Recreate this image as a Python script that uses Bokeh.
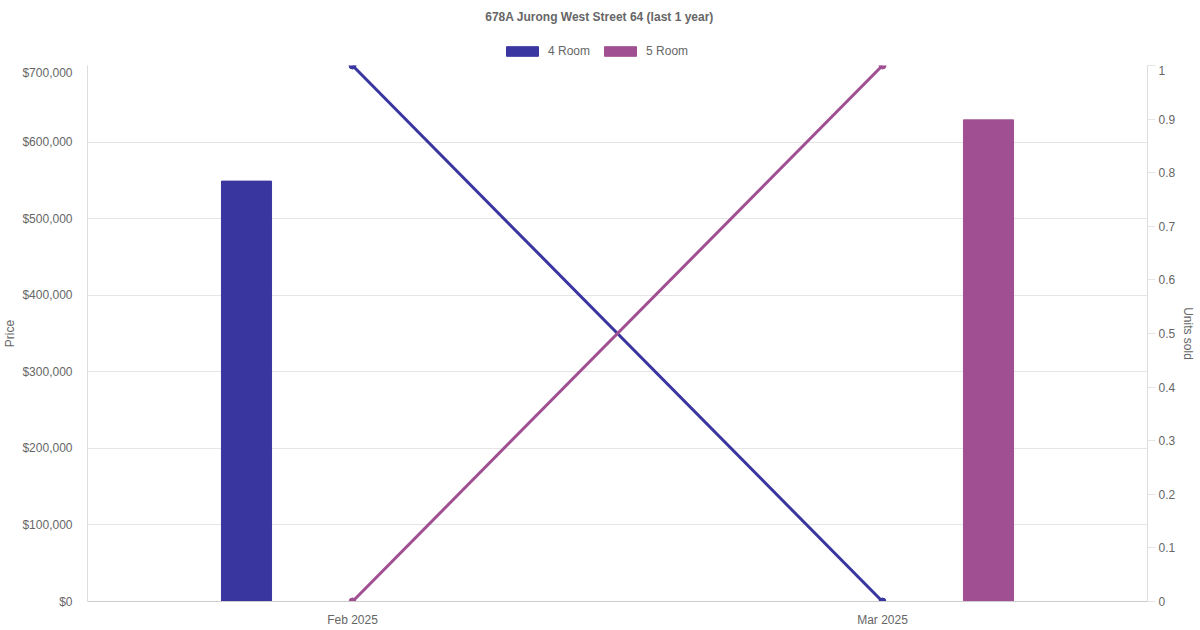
import numpy as np
from bokeh.plotting import figure
from bokeh.layouts import column, row
from bokeh.embed import file_html
from bokeh.resources import INLINE
from bokeh.models import ColumnDataSource, FactorRange, Range1d, LinearAxis, \
    NumeralTickFormatter, SingleIntervalTicker, Legend, LegendItem, Label
from bokeh.transform import dodge

# monthly data for 678A Jurong West Street 64
months = ['Feb 2025', 'Mar 2025']
price_4room = [549000, np.nan]
price_5room = [np.nan, 629000]
units_4room = [1, 0]
units_5room = [0, 1]

c4 = '#3a36a0'
c5 = '#a05092'
FONT = 'Liberation Sans'
TXT = '#666666'
GRID = '#e5e5e5'

source = ColumnDataSource(data=dict(month=months,
                                    p4=price_4room, p5=price_5room,
                                    u4=units_4room, u5=units_5room))

# header: title + legend (a legend in a side panel misbehaves, so it gets its own canvas)
head = figure(width=1184, height=65, x_range=Range1d(0, 1), y_range=Range1d(0, 1),
              toolbar_location=None, output_backend='svg',
              min_border_left=80, min_border_right=45, min_border_top=0, min_border_bottom=0)
head.axis.visible = False
head.grid.grid_line_color = None
head.outline_line_color = None

head.add_layout(Label(x=519, y=49, x_units='screen', y_units='screen',
                      text='678A Jurong West Street 64 (last 1 year)',
                      text_align='center', text_baseline='middle',
                      text_font=FONT, text_font_size='12px', text_font_style='bold',
                      text_color=TXT))

# legend proxies, never drawn (top is NaN)
k4 = head.vbar(x=[0.5], top=[np.nan], width=0.1, fill_color=c4, line_color=c4)
k5 = head.vbar(x=[0.5], top=[np.nan], width=0.1, fill_color=c5, line_color=c5)
legend = Legend(items=[LegendItem(label='4 Room', renderers=[k4]),
                       LegendItem(label='5 Room', renderers=[k5])],
                orientation='horizontal', location=(422, 7),
                glyph_width=40, glyph_height=12, label_standoff=6, spacing=10,
                padding=0, margin=0, border_line_color=None, background_fill_alpha=0,
                label_text_font=FONT, label_text_font_size='12px', label_text_color=TXT)
head.add_layout(legend, 'center')

p = figure(width=1178, height=564,
           x_range=FactorRange(*months, range_padding=0),
           y_range=Range1d(0, 700000),
           toolbar_location=None,
           output_backend='svg',
           min_border_left=0, min_border_right=29,
           min_border_top=0, min_border_bottom=0)
p.outline_line_color = None

p.extra_y_ranges['units'] = Range1d(0, 1)

# bars, one slot per room type inside each month
p.vbar(x=dodge('month', -0.2, range=p.x_range), top='p4', width=0.0945,
       fill_color=c4, line_color=c4, source=source)
p.vbar(x=dodge('month', 0.2, range=p.x_range), top='p5', width=0.0945,
       fill_color=c5, line_color=c5, source=source)

# units sold lines on the right axis
p.line(x='month', y='u4', line_color=c4, line_width=3, source=source, y_range_name='units')
p.scatter(x='month', y='u4', size=7, fill_color=c4, line_color=c4, source=source, y_range_name='units')
p.line(x='month', y='u5', line_color=c5, line_width=3, source=source, y_range_name='units')
p.scatter(x='month', y='u5', size=7, fill_color=c5, line_color=c5, source=source, y_range_name='units')

# left axis
p.yaxis.ticker = SingleIntervalTicker(interval=100000)
p.yaxis.formatter = NumeralTickFormatter(format='$0,0')
p.yaxis.axis_label = 'Price'
p.yaxis.major_tick_line_color = None
p.yaxis.major_tick_out = 0
p.yaxis.minor_tick_line_color = None
p.yaxis.axis_line_color = '#dddddd'
p.yaxis.major_label_standoff = 11
p.yaxis.axis_label_standoff = 2

# right axis (its title sits in a narrow canvas of its own)
ax_r = LinearAxis(y_range_name='units', ticker=SingleIntervalTicker(interval=0.1))
p.add_layout(ax_r, 'right')
ax_r.major_tick_out = 8
ax_r.major_tick_in = 0
ax_r.major_tick_line_color = GRID
ax_r.minor_tick_line_color = None
ax_r.axis_line_color = '#dddddd'
ax_r.major_label_standoff = 3

# bottom axis
p.xaxis.major_tick_line_color = None
p.xaxis.major_tick_out = 0
p.xaxis.axis_line_color = '#cccccc'
p.xaxis.major_label_standoff = 11

for ax in p.yaxis + p.xaxis:
    ax.major_label_text_font = FONT
    ax.major_label_text_font_size = '12px'
    ax.major_label_text_color = TXT
    ax.axis_label_text_font = FONT
    ax.axis_label_text_font_size = '12px'
    ax.axis_label_text_font_style = 'normal'
    ax.axis_label_text_color = TXT

p.xgrid.grid_line_color = None
p.ygrid.grid_line_color = GRID

side = figure(width=16, height=564, x_range=Range1d(0, 1), y_range=p.y_range,
              toolbar_location=None, output_backend='svg',
              min_border_left=0, min_border_right=0, min_border_top=0, min_border_bottom=0)
side.axis.visible = False
side.grid.grid_line_color = None
side.outline_line_color = None
side.add_layout(Label(x=9, y=p.y_range.end / 2, x_units='screen', text='Units sold',
                      angle=-np.pi / 2, text_align='center', text_baseline='middle',
                      text_font=FONT, text_font_size='12px', text_color=TXT))

open('out.html', 'w').write(file_html(column(head, row(p, side)), INLINE))
